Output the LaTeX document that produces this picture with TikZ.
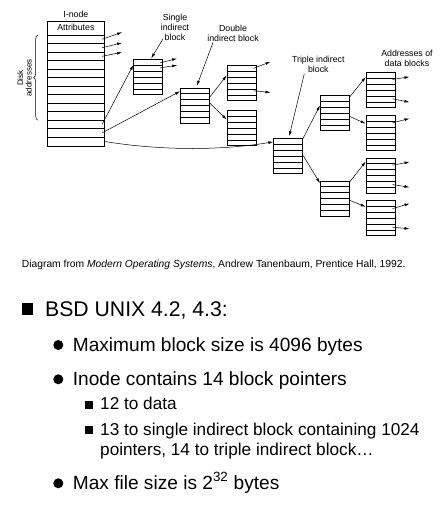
\documentclass[tikz,border=0pt]{standalone}
\usepackage{fontspec}
\setmainfont{Liberation Sans}
\usepackage{tikz}
\usetikzlibrary{arrows.meta,calc,positioning,decorations.pathreplacing}

\tikzset{
  blk/.style={draw, line width=0.8pt, inner sep=0pt, anchor=north west,
              minimum width=29pt, minimum height=35pt},
  rowline/.style={line width=0.5pt},
  ptr/.style={line width=0.5pt, -{Latex[length=5pt,width=2.8pt]}},
  lbl/.style={font=\fontsize{8.8}{10}\selectfont, align=center, inner sep=0pt},
  sqmark/.style={fill=black, inner sep=0pt, minimum size=#1},
  dotmark/.style={circle, fill=black, inner sep=0pt, minimum size=10pt},
  lvlone/.style={anchor=base west, inner sep=0pt, font=\fontsize{21.2}{24}\selectfont},
  lvltwo/.style={anchor=base west, inner sep=0pt, font=\fontsize{19.1}{22}\selectfont},
  lvlthree/.style={anchor=base west, inner sep=0pt, font=\fontsize{17.2}{20}\selectfont},
}

% block of six slots, top left corner at (#2,#3)
\newcommand{\slotblock}[3]{%
  \node[blk] (#1) at (#2,#3) {};
  \foreach \k in {1,...,5}
    \draw[rowline] ($(#1.north west)!\k/6!(#1.south west)$) -- ($(#1.north east)!\k/6!(#1.south east)$);
}

% pointer out of a slot: block, height fraction, rise, name of free end
\newcommand{\slotptr}[4]{%
  \draw[ptr] ($(#1.north east)!#2!(#1.south east)+(-3,0)$) -- ++(17,#3) coordinate (#4);
}

\begin{document}
\begin{tikzpicture}[x=1pt,y=-1pt]
  \useasboundingbox (0,0) rectangle (444,516);

  % i-node
  \node[blk, minimum width=57.6pt, minimum height=125pt] (inode) at (46.7,20.7) {};
  \node[lbl, above=3pt of inode] (inodetitle) {I-node};
  \node[lbl] (attr) at ($(inode.north)+(0,7.15)$) {Attributes};
  \foreach \k in {0,...,12}
    \draw[rowline] ($(inode.north west)+(0,14.3+\k*8.515)$) -- ++(57.6,0);
  \draw[line width=0.5pt, decorate, decoration={brace, amplitude=4pt}]
    ($(inode.north west)+(-9,99.5)$) coordinate (brbot) -- ($(inode.north west)+(-9,14.3)$) coordinate (brtop);
  \node[lbl, rotate=90, font=\fontsize{8}{8.5}\selectfont] (diskaddr) at (24.5,78) {Disk\\addresses};

  % direct slots
  \foreach \r/\rise in {1/-7, 2/-5, 3/-4}
    \draw[ptr] ($(inode.north east)+(-3,14.3+\r*8.515-4.26)$) -- ++(20,\rise) coordinate (direct\r);

  % indirect blocks
  \slotblock{sgl}{133.3}{59.3}
  \slotblock{dbl}{180}{87.7}
  \slotblock{dbla}{226.7}{65}
  \slotblock{dblb}{226.7}{110.3}
  \slotblock{tpl}{273.3}{138.3}
  \slotblock{tpla}{320}{95}
  \slotblock{tplb}{320}{180.7}
  \slotblock{dat1}{365.7}{72.3}
  \slotblock{dat2}{365.7}{115}
  \slotblock{dat3}{365.7}{157.7}
  \slotblock{dat4}{365.7}{200}

  \draw[ptr] ($(inode.north east)+(-3,103.7)$) -- ($(sgl.north west)!0.16!(sgl.south west)$);
  \draw[ptr] ($(inode.north east)+(-3,112.2)$) -- ($(dbl.north west)!0.1!(dbl.south west)$);
  \draw[ptr] ($(inode.north east)+(-1,120.7)$) .. controls +(55,9) and +(-55,9) .. ($(tpl.north west)!0.1!(tpl.south west)$);

  \draw[ptr] ($(dbl.north east)!0.26!(dbl.south east)$) -- ($(dbla.north west)!0.29!(dbla.south west)$);
  \draw[ptr] ($(dbl.north east)!0.43!(dbl.south east)$) -- ($(dblb.north west)!0.26!(dblb.south west)$);
  \draw[ptr] ($(tpl.north east)!0.0!(tpl.south east)$) -- ($(tpla.north west)!0.29!(tpla.south west)$);
  \draw[ptr] ($(tpl.north east)!0.48!(tpl.south east)$) -- ($(tplb.north west)!0.07!(tplb.south west)$);
  \draw[ptr] ($(tpla.north east)!0.05!(tpla.south east)$) -- ($(dat1.north west)!0.13!(dat1.south west)$);
  \draw[ptr] ($(tpla.north east)!0.6!(tpla.south east)$) -- ($(dat2.north west)!0.24!(dat2.south west)$);
  \draw[ptr] ($(tplb.north east)!0.03!(tplb.south east)$) -- ($(dat3.north west)!0.11!(dat3.south west)$);
  \draw[ptr] ($(tplb.north east)!0.55!(tplb.south east)$) -- ($(dat4.north west)!0.19!(dat4.south west)$);

  % pointers to data blocks
  \slotptr{sgl}{0.1}{-4.4}{sglout1}
  \slotptr{sgl}{0.24}{-2.7}{sglout2}
  \slotptr{dbla}{0.095}{-6.6}{dblaout1}
  \slotptr{dbla}{0.72}{1.7}{dblaout2}
  \slotptr{dat1}{0.2}{-2.6}{datout1}
  \slotptr{dat1}{0.74}{3.4}{datout2}
  \slotptr{dat2}{0.22}{-4.4}{datout3}
  \slotptr{dat3}{0.21}{-3.3}{datout4}
  \slotptr{dat3}{0.75}{2.7}{datout5}
  \slotptr{dat4}{0.24}{-5}{datout6}
  \slotptr{dat4}{0.76}{1.6}{datout7}

  % labels
  \node[lbl] (sgllbl) at (175,27.5) {Single\\indirect\\block};
  \draw[ptr] ($(sgllbl.south)+(-12,-2)$) -- ($(sgl.north)+(3,-1)$);
  \node[lbl] (dbllbl) at (233,33) {Double\\indirect block};
  \draw[ptr] ($(dbllbl.south)+(-20,1)$) -- ($(dbl.north)+(2,-2)$);
  \node[lbl] (tpllbl) at (318.3,64.3) {Triple indirect\\block};
  \draw[ptr] ($(tpllbl.south)+(-14,1)$) -- ($(tpl.north)+(1,-2)$);
  \node[lbl] (datlbl) at (407,58.3) {Addresses of\\data blocks};

  \node[anchor=west, inner sep=0pt, font=\fontsize{10.3}{12}\selectfont] (credit) at (21.7,265)
    {Diagram from \textit{Modern Operating Systems}, Andrew Tanenbaum, Prentice Hall, 1992.};

  % bullet list
  \node[sqmark=11.5pt] (m1) at (27.5,309) {};
  \node[lvlone] (t1) at (45,316.7) {BSD UNIX 4.2, 4.3:};
  \node[dotmark] (m2) at (58.3,345) {};
  \node[lvltwo] (t2) at (72.7,351) {Maximum block size is 4096 bytes};
  \node[dotmark] (m3) at (58.3,379.3) {};
  \node[lvltwo] (t3) at (72.7,385) {Inode contains 14 block pointers};
  \node[sqmark=8pt] (m4) at (89.2,405) {};
  \node[lvlthree] (t4) at (100,409.3) {12 to data};
  \node[sqmark=8pt] (m5) at (89.2,430) {};
  \node[lvlthree] (t5) at (100,435) {13 to single indirect block containing 1024};
  \node[lvlthree] (t6) at (100,455.7) {pointers, 14 to triple indirect block…};
  \node[dotmark] (m6) at (58.3,483.3) {};
  \node[lvltwo] (t7) at (72.7,489.3) {Max file size is 2\textsuperscript{32} bytes};
\end{tikzpicture}
\end{document}
